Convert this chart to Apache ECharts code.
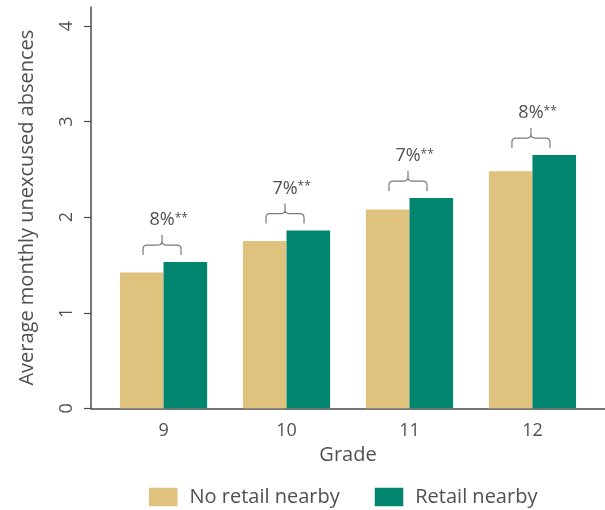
<!DOCTYPE html>
<html>
<head>
<meta charset="utf-8">
<script src="https://cdn.jsdelivr.net/npm/echarts@6/dist/echarts.min.js"></script>
<style>
  html, body { margin: 0; padding: 0; background: #fff; }
  #chart { width: 605px; height: 510px; }
</style>
</head>
<body>
<div id="chart"></div>
<script>
// Grades on the horizontal axis
const grades = [9, 10, 11, 12];
// Average monthly unexcused absences by group
const noRetail = [1.42, 1.75, 2.08, 2.48];
const retail = [1.53, 1.86, 2.20, 2.65];
// Percentage difference annotations and significance stars
const diffLabels = ['8%', '7%', '7%', '8%'];
const diffStars = ['**', '**', '**', '**'];
// Y axis tick values
const yTicks = [0, 1, 2, 3, 4];

const FONT = '"Open Sans", "Noto Sans", sans-serif';
const TEXT = '#505050';
const AXIS = '#4a4a4a';

const measureCtx = document.createElement('canvas').getContext('2d');
function textWidth(str, size) {
  measureCtx.font = size + 'px ' + FONT;
  return measureCtx.measureText(str).width;
}

const chart = echarts.init(document.getElementById('chart'), null, { renderer: 'canvas' });

const bracketData = grades.map((g, i) => [g, retail[i], diffLabels[i], diffStars[i]]);

// Curly bracket over each pair of bars with the percentage difference above it
function renderBracket(params, api) {
  const top = api.coord([api.value(0), api.value(1)]);
  const xc = top[0] - 1.5;
  const half = 19;
  const r = 4;
  const yb = top[1] - 7;
  const yh = yb - 10;
  const ys = yh - 10;
  const x0 = xc - half, x1 = xc + half;
  const d = [
    'M', x0, yb, 'L', x0, yh + r, 'Q', x0, yh, x0 + r, yh, 'L', xc - r, yh,
    'Q', xc, yh, xc, yh - r, 'L', xc, ys,
    'M', x1, yb, 'L', x1, yh + r, 'Q', x1, yh, x1 - r, yh, 'L', xc + r, yh,
    'Q', xc, yh, xc, yh - r
  ].join(' ');
  const label = api.value(2);
  const stars = api.value(3);
  const ly = ys - 15;
  const w = textWidth(label, 18);
  return {
    type: 'group',
    children: [
      { type: 'path', shape: { pathData: d },
        style: { fill: null, stroke: '#7a7a7a', lineWidth: 1.2 } },
      { type: 'text', style: { text: label, x: xc, y: ly, align: 'center', verticalAlign: 'middle',
        font: '18px ' + FONT, fill: TEXT } },
      { type: 'text', style: { text: stars, x: xc + w / 2, y: ly - 2, align: 'left', verticalAlign: 'middle',
        font: '12px ' + FONT, fill: TEXT } }
    ]
  };
}

chart.setOption({
  animation: false,
  textStyle: { fontFamily: FONT },
  grid: { left: 91, right: 0, top: 7, bottom: 101.7, containLabel: false },
  legend: {
    data: ['No retail nearby', 'Retail nearby'],
    left: 149, top: 487, padding: 0,
    itemWidth: 28.5, itemHeight: 18.5, itemGap: 35,
    icon: 'rect',
    textStyle: { fontSize: 20, color: TEXT, fontFamily: FONT, padding: [0, 0, 0, 7] }
  },
  xAxis: {
    type: 'value',
    min: 8.41, max: 12.59,
    name: 'Grade', nameLocation: 'middle', nameGap: 33,
    nameTextStyle: { fontSize: 20, color: TEXT, fontFamily: FONT },
    axisLine: { show: true, lineStyle: { color: AXIS, width: 1.5 } },
    axisTick: { show: false },
    splitLine: { show: false },
    axisLabel: { customValues: grades, fontSize: 18, color: TEXT, margin: 14, fontFamily: FONT }
  },
  yAxis: {
    type: 'value',
    min: 0, max: 4.2,
    name: 'Average monthly unexcused absences', nameLocation: 'middle', nameGap: 54, nameRotate: 90,
    nameTextStyle: { fontSize: 20, color: TEXT, fontFamily: FONT },
    axisLine: { show: true, lineStyle: { color: AXIS, width: 1.5 } },
    axisTick: { show: true, customValues: yTicks, length: 7, lineStyle: { color: AXIS, width: 1.2 } },
    splitLine: { show: false },
    axisLabel: { customValues: yTicks, rotate: 90, fontSize: 18, color: TEXT, margin: 15, fontFamily: FONT }
  },
  series: [
    {
      name: 'No retail nearby', type: 'bar',
      data: grades.map((g, i) => [g, noRetail[i]]),
      barWidth: 43.6, barGap: '0%',
      itemStyle: { color: '#dfc27d' }
    },
    {
      name: 'Retail nearby', type: 'bar',
      data: grades.map((g, i) => [g, retail[i]]),
      barWidth: 43.6, barGap: '0%',
      itemStyle: { color: '#01856f' }
    },
    {
      name: 'diff', type: 'custom',
      data: bracketData,
      renderItem: renderBracket,
      encode: { x: 0, y: 1 },
      silent: true,
      clip: false,
      z: 5
    }
  ]
});
</script>
</body>
</html>
